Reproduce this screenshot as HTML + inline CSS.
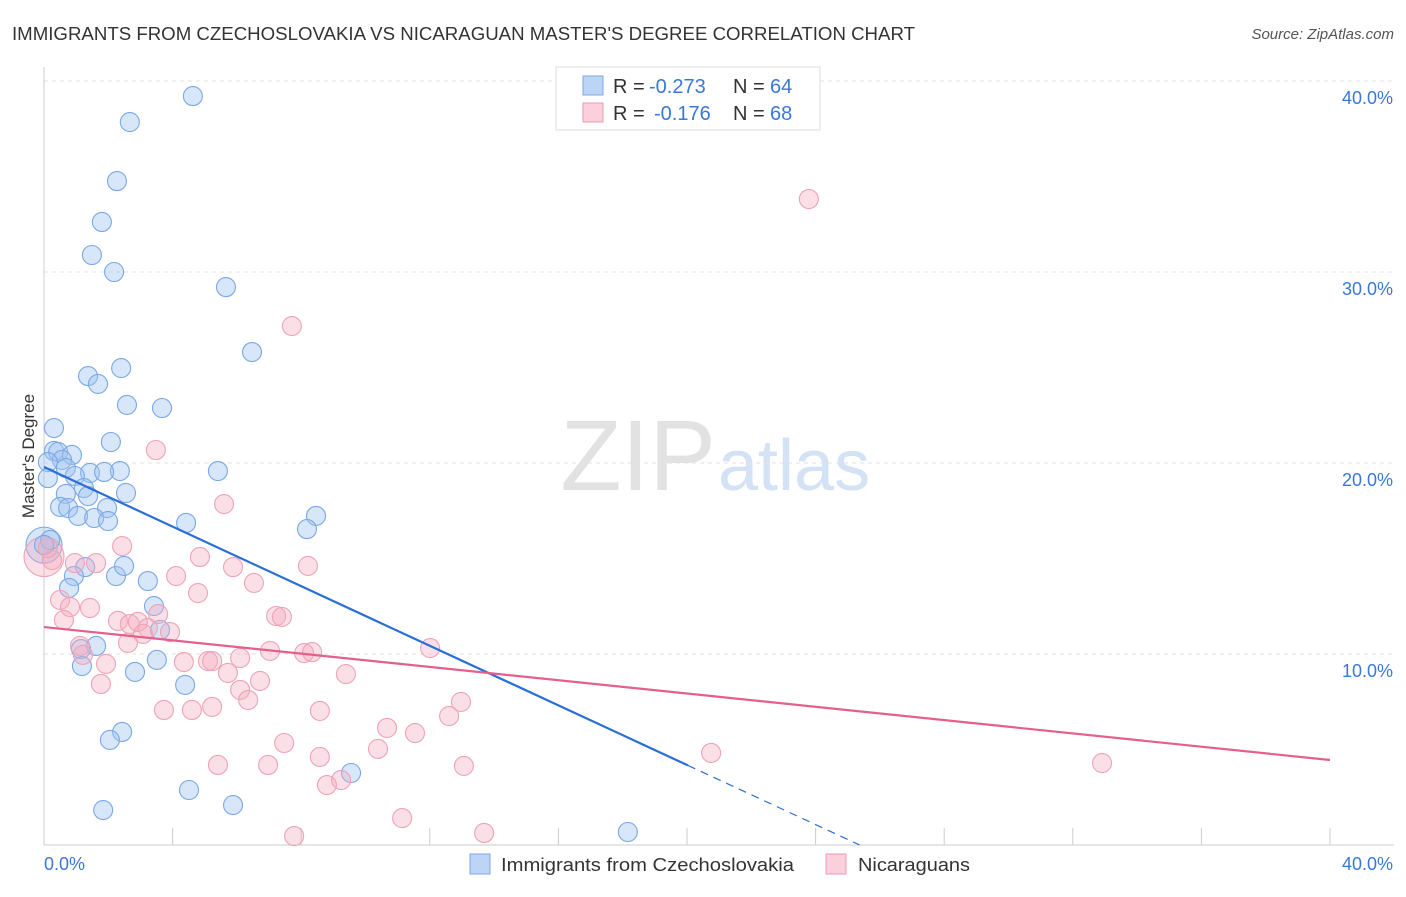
<!DOCTYPE html>
<html><head><meta charset="utf-8"><style>
body{margin:0;background:#fff;font-family:"Liberation Sans",sans-serif}
svg text{font-family:"Liberation Sans",sans-serif}
</style></head><body>
<svg id="c" width="1406" height="892" xmlns="http://www.w3.org/2000/svg">
<text x="12" y="40" font-size="18" fill="#333" textLength="903" lengthAdjust="spacingAndGlyphs">IMMIGRANTS FROM CZECHOSLOVAKIA VS NICARAGUAN MASTER'S DEGREE CORRELATION CHART</text>
<text x="1394" y="39" font-size="15" fill="#555" font-style="italic" text-anchor="end">Source: ZipAtlas.com</text>
<text x="34" y="456" font-size="17" fill="#333" text-anchor="middle" transform="rotate(-90 34 456)">Master's Degree</text>
<text x="716" y="490" font-size="100" fill="#e2e2e2" text-anchor="end" font-family="Liberation Serif">ZIP</text>
<text x="718" y="490" font-size="72" fill="#d3e2f5">atlas</text>
<g id="grid"></g><g id="pts"></g><g id="lines"></g>
<g>
<rect x="556" y="67" width="264" height="63" fill="#fff" stroke="#ddd"/>
<rect x="583" y="76" width="20" height="19" fill="#bcd4f5" stroke="#7aa8e6"/>
<rect x="583" y="103" width="20" height="19" fill="#fbd0dc" stroke="#eb9ab1"/>
<text x="613" y="93" font-size="20" fill="#333">R =</text>
<text x="649" y="93" font-size="20" fill="#3a78d8">-0.273</text>
<text x="733" y="93" font-size="20" fill="#333">N =</text>
<text x="770" y="93" font-size="20" fill="#3a78d8">64</text>
<text x="613" y="120" font-size="20" fill="#333">R =</text>
<text x="654" y="120" font-size="20" fill="#3a78d8">-0.176</text>
<text x="733" y="120" font-size="20" fill="#333">N =</text>
<text x="770" y="120" font-size="20" fill="#3a78d8">68</text>
</g>
<g>
<rect x="470" y="854" width="20" height="20" fill="#bcd4f5" stroke="#7aa8e6"/>
<text x="501" y="871" font-size="18" fill="#333" textLength="293" lengthAdjust="spacingAndGlyphs">Immigrants from Czechoslovakia</text>
<rect x="826" y="854" width="20" height="20" fill="#fbd0dc" stroke="#eb9ab1"/>
<text x="858" y="871" font-size="18" fill="#333" textLength="112" lengthAdjust="spacingAndGlyphs">Nicaraguans</text>
</g>
</svg>
<script>
const yTicks=[10,20,30,40];
const xTickLabels=["0.0%","40.0%"];
const blueX=[193,130,117,102,92,114,226,252,88,121,98,127,162,54,111,54,58,72,62,48,120,218,66,90,75,104,48,84,66,88,126,60,68,107,78,94,108,186,316,307,50,85,74,116,148,124,69,154,160,96,81,82,157,135,185,122,110,351,189,103,233,628,44].map(p=>+((p-44)/32.15).toFixed(2));
const blueY=[96,122,181,222,255,272,287,352,376,368,384,405,408,428,442,451,452,455,460,462,471,471,468,473,476,472,478,488,494,496,493,507,508,508,516,518,521,523,516,529,540,567,576,576,581,566,588,606,630,646,649,666,660,672,685,732,740,773,790,810,805,832,545].map(p=>+((845-p)/19.1).toFixed(2));
const pinkX=[809,292,156,224,122,52,48,75,96,200,233,176,254,308,60,70,90,198,158,118,130,138,148,143,170,276,282,64,80,83,128,184,208,240,212,270,304,312,430,106,228,101,260,346,240,248,164,192,212,320,461,449,387,415,284,378,320,218,268,464,711,1102,327,341,402,484,294].map(p=>+((p-44)/32.15).toFixed(2));
const pinkY=[199,326,450,504,546,560,548,563,563,557,567,576,583,566,600,607,608,593,614,621,624,622,628,634,632,616,617,620,646,655,643,662,661,658,661,651,653,652,648,664,673,684,681,674,690,700,710,710,707,711,702,716,728,733,743,749,757,765,765,766,753,763,785,780,818,833,836].map(p=>+((845-p)/19.1).toFixed(2));
const bigBlue=[0,15.7], bigPink=[0,15.1];
const blueTrend=[19.79,-0.78], pinkTrend=[11.41,-0.174];
const X=v=>44+v*32.15, Y=v=>845-v*19.1;
const NS="http://www.w3.org/2000/svg";
function mk(t,a,p){const e=document.createElementNS(NS,t);for(const k in a)e.setAttribute(k,a[k]);p.appendChild(e);return e;}
const g=document.getElementById('grid');
yTicks.forEach(t=>{
 const l=mk('line',{x1:44,x2:1394,y1:Y(t),y2:Y(t),stroke:'#e2e2e2','stroke-dasharray':'4,4'},g);
 
 
 const tx=mk('text',{x:1393,y:Y(t)+23,'font-size':18,fill:'#3a78d8','text-anchor':'end'},g);tx.textContent=t+'.0%';
 
 
});
const ax=mk('line',{x1:44,x2:1394,y1:845,y2:845,stroke:'#ccc'},g);


const ay=mk('line',{x1:44,x2:44,y1:67,y2:845,stroke:'#ccc'},g);


for(let i=1;i<=10;i++){const t=mk('line',{x1:X(i*4),x2:X(i*4),y1:828,y2:845,stroke:'#ccc'},g);
 
 }
[[44,'start',0],[1393,'end',1]].forEach(([x,a,i])=>{const t=mk('text',{x:x,y:870,'font-size':18,fill:'#3a78d8','text-anchor':a},g);t.textContent=xTickLabels[i];
 
 });
const P=document.getElementById('pts');
function dot(x,y,r,c){const e=mk('circle',{cx:X(x),cy:Y(y),r:r,fill:c?'rgba(244,170,190,0.38)':'rgba(160,196,240,0.42)',stroke:c?'#eea3b8':'#7aa8e6','stroke-width':1.1},P);return e;}
let b=dot(bigBlue[0],bigBlue[1],18,0);


let p=dot(bigPink[0],bigPink[1],20,1);


blueX.forEach((x,i)=>{const e=dot(x,blueY[i],9.5,0);
 
 });
pinkX.forEach((x,i)=>{const e=dot(x,pinkY[i],9.5,1);
 
 });
const L=document.getElementById('lines');
const bx1=20.03,bx2=-blueTrend[0]/blueTrend[1];
let l1=mk('line',{x1:X(0),y1:Y(blueTrend[0]),x2:X(bx1),y2:Y(blueTrend[0]+blueTrend[1]*bx1),stroke:'#2a6fd8','stroke-width':2.2},L);


let l2=mk('line',{x1:X(bx1),y1:Y(blueTrend[0]+blueTrend[1]*bx1),x2:X(bx2),y2:Y(0),stroke:'#2a6fd8','stroke-width':1.2,'stroke-dasharray':'8,6'},L);


let l3=mk('line',{x1:X(0),y1:Y(pinkTrend[0]),x2:X(40),y2:Y(pinkTrend[0]+pinkTrend[1]*40),stroke:'#e4608a','stroke-width':2.2},L);


</script>
</body></html>
